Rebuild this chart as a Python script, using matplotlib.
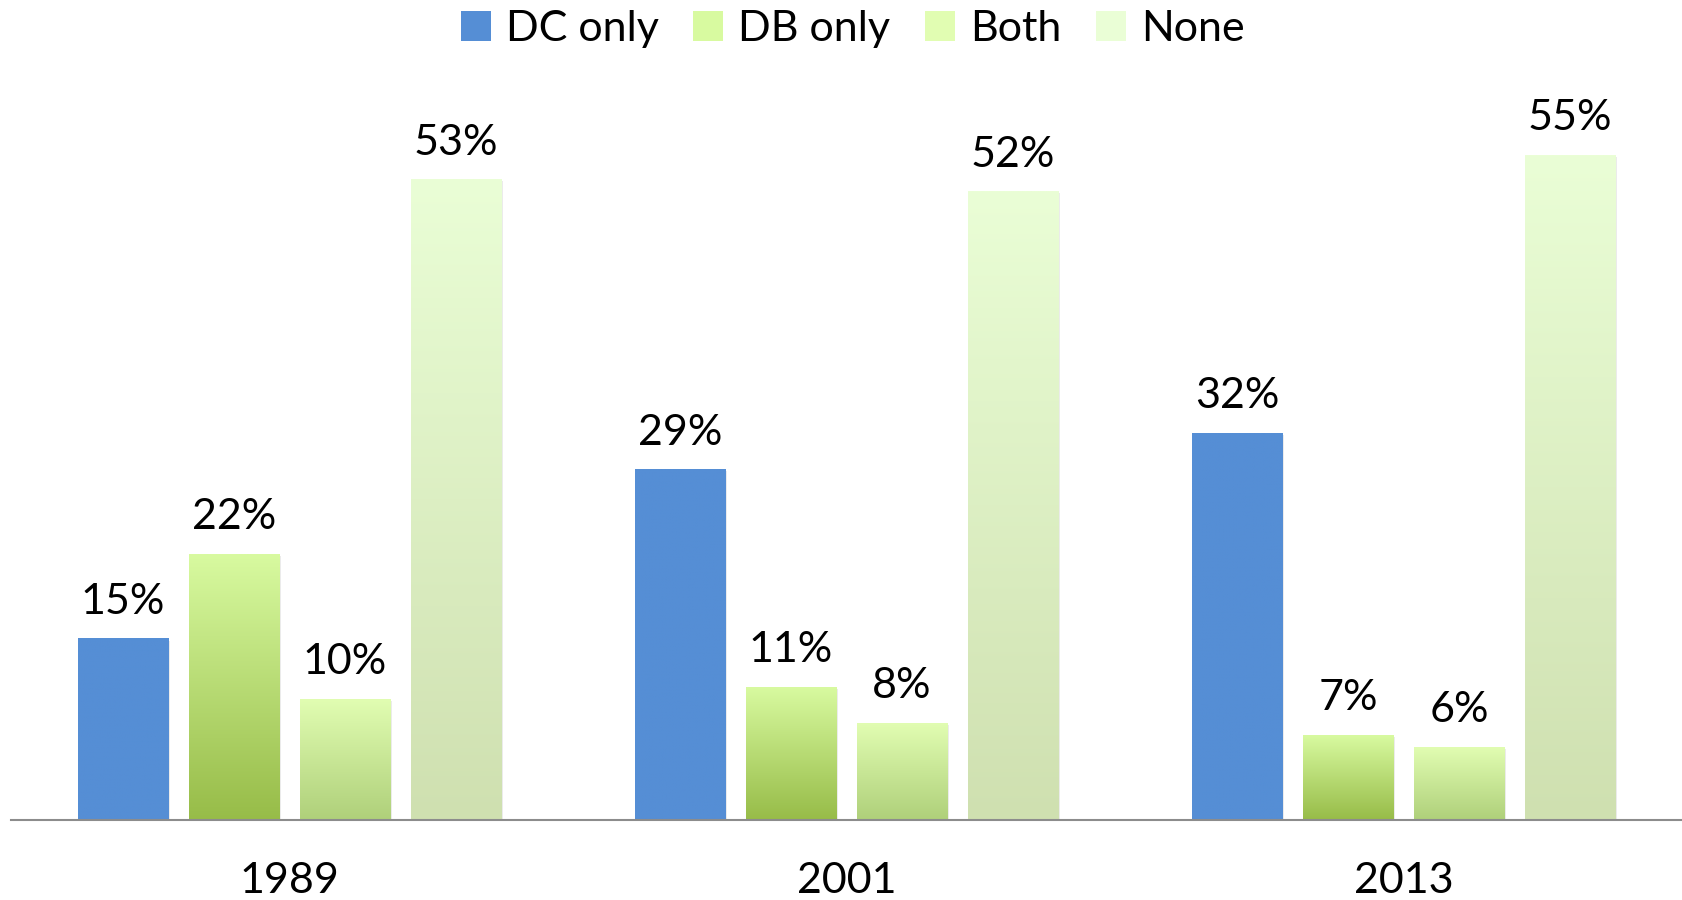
import numpy as np
import matplotlib.pyplot as plt
from matplotlib.colors import LinearSegmentedColormap
from matplotlib.patches import Patch

plt.rcParams['font.family'] = ['Lato', 'DejaVu Sans']

# 数据
years = ['1989', '2001', '2013']
series = ['DC only', 'DB only', 'Both', 'None']
dc_only = [15, 29, 32]
db_only = [22, 11, 7]
both = [10, 8, 6]
none = [53, 52, 55]
values = [dc_only, db_only, both, none]

# 每个系列的颜色（上, 下），纯色系列上下相同
grads = [('#558ED5', '#558ED5'),
         ('#D8FAA0', '#97BC48'),
         ('#E1FDB2', '#AFD07A'),
         ('#EAFED6', '#CFE0B0')]

fig = plt.figure(figsize=(16.82, 9), dpi=100)
ax = fig.add_axes([0.0065, 0.0889, 0.9935, 0.8056])

x = np.arange(len(years))
step = 0.1994
width = 0.162
grad = np.linspace(1, 0, 256).reshape(-1, 1)

for j, (name, vals) in enumerate(zip(series, values)):
    cmap = LinearSegmentedColormap.from_list(name, [grads[j][1], grads[j][0]])
    pos = x + (j - 1.5) * step
    bars = ax.bar(pos, vals, width, color='none', edgecolor='none', zorder=2)
    for b, v in zip(bars, vals):
        x0 = b.get_x()
        # 浅阴影
        ax.add_patch(plt.Rectangle((x0 + 0.004, 0), width, v - 0.15,
                                   color='#000000', alpha=0.08, zorder=1, lw=0))
        ax.imshow(grad, cmap=cmap, extent=[x0, x0 + width, 0, v],
                  aspect='auto', zorder=2, interpolation='bilinear', vmin=0, vmax=1)
        ax.annotate(f'{v}%', (x0 + width / 2, v), xytext=(0, 18),
                    textcoords='offset points', ha='center', va='baseline',
                    fontsize=31)

ax.set_xlim(-0.5, 2.5)
ax.set_ylim(0, 60)
ax.set_xticks(x)
ax.set_xticklabels(years, fontsize=31)
ax.tick_params(axis='x', length=0, pad=30)
ax.set_yticks([])
for s in ['top', 'right', 'left']:
    ax.spines[s].set_visible(False)
ax.spines['bottom'].set_color('#8C8C8C')
ax.spines['bottom'].set_linewidth(1.5)
ax.spines['bottom'].set_zorder(3)

# 图例
handles = [Patch(facecolor=grads[0][0])]
for j in range(1, 4):
    handles.append(Patch(facecolor=grads[j][0]))
leg = fig.legend(handles, series, loc='center', bbox_to_anchor=(0.507, 0.968),
                 ncol=4, frameon=False, fontsize=31, handlelength=0.7,
                 handleheight=0.7, handletextpad=0.35, columnspacing=0.8)

plt.savefig('out.png', dpi=100)
